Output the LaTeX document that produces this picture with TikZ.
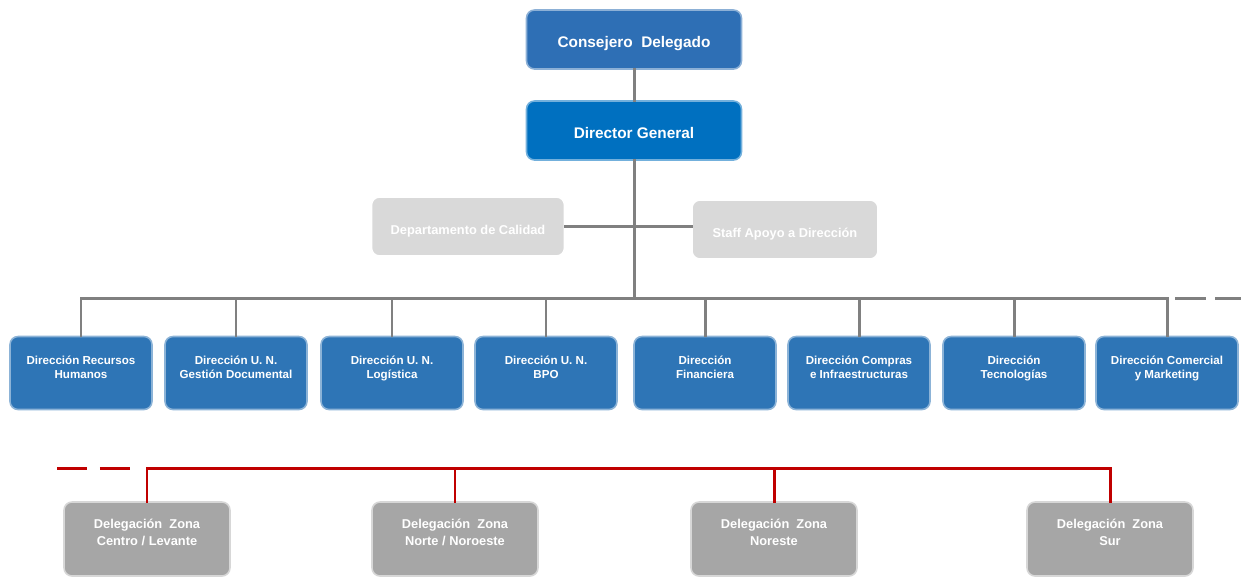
\documentclass[tikz,border=0pt]{standalone}
\usepackage{fontspec}
\setmainfont{Liberation Sans}

\definecolor{headBlue}{HTML}{2E6FB5}
\definecolor{chiefBlue}{HTML}{0070C0}
\definecolor{unitBlue}{HTML}{2E75B6}
\definecolor{staffGray}{HTML}{D9D9D9}
\definecolor{zoneGray}{HTML}{A6A6A6}
\definecolor{lineGray}{HTML}{808080}
\definecolor{zoneRed}{HTML}{C00000}

\begin{document}
\begin{tikzpicture}[
    x=0.02cm, y=-0.02cm,
    boxnode/.style={rectangle, rounded corners=0.16cm, line width=0.9pt, text=white, align=center},
    headnode/.style={boxnode, fill=#1, draw=#1!55!white, minimum width=4.3cm, minimum height=1.18cm, text height=10pt, text depth=0.9pt, font=\fontsize{8.75}{10.5}\selectfont\bfseries},
    staffnode/.style={boxnode, fill=staffGray, draw=white, minimum height=1.18cm, text height=9pt, text depth=0pt, font=\fontsize{7.3}{9}\selectfont\bfseries},
    unitnode/.style={boxnode, fill=unitBlue, draw=unitBlue!55!white, minimum width=2.84cm, minimum height=1.46cm, text height=12pt, text depth=6.2pt, font=\fontsize{6.6}{7.9}\selectfont\bfseries},
    zonenode/.style={boxnode, fill=zoneGray, draw=zoneGray!45!white, minimum width=3.32cm, minimum height=1.48cm, text height=14pt, text depth=6.6pt, font=\fontsize{7.3}{9.6}\selectfont\bfseries},
    grayline/.style={draw=lineGray, line width=1.7pt, line cap=rect},
    redline/.style={draw=zoneRed, line width=1.7pt, line cap=rect},
]

    \useasboundingbox (0, 0) rectangle (1241, 576);

    % top of the chart
    \node at (634, 39.5) [headnode=headBlue] (consejero) {Consejero~~Delegado};
    \node at (634, 130.5) [headnode=chiefBlue] (director) {Director General};

    % staff boxes beside the trunk
    \node at (468, 226.5) [staffnode, minimum width=3.86cm] (calidad) {Departamento de Calidad};
    \node at (785, 229.5) [staffnode, minimum width=3.72cm] (staff) {Staff Apoyo a Dirección};

    % direcciones
    \foreach \i/\posX/\boxText in {
    % i:    the i box from left,
    % posX: the box center on the row
    1/81/{Dirección Recursos\\Humanos},
    2/236/{Dirección U. N.\\Gestión Documental},
    3/392/{Dirección U. N.\\Logística},
    4/546/{Dirección U. N.\\BPO},
    5/705/{Dirección\\Financiera},
    6/859/{Dirección Compras\\e Infraestructuras},
    7/1014/{Dirección\\Tecnologías},
    8/1167/{Dirección Comercial\\y Marketing}}
    {
        \node at (\posX, 373) [unitnode] (dir_\i) {\boxText};
    }

    % delegaciones
    \foreach \i/\posX/\boxText in {
    1/147/{Delegación~~Zona\\Centro / Levante},
    2/455/{Delegación~~Zona\\Norte / Noroeste},
    3/774/{Delegación~~Zona\\Noreste},
    4/1110/{Delegación~~Zona\\Sur}}
    {
        \node at (\posX, 539) [zonenode] (zone_\i) {\boxText};
    }

    % the trunk
    \coordinate (bar) at (634, 298);
    \draw [grayline] (consejero) -- (director);
    \draw [grayline] (director) -- (bar);
    \draw [grayline] (calidad.east) -- (calidad.east -| staff.west);

    % horizontal bar and drops to the direcciones
    \draw [grayline] (dir_1.north |- bar) -- (dir_8.north |- bar);
    \foreach \i in {1, ..., 8}
    {
        \draw [grayline] (dir_\i.north |- bar) -- (dir_\i.north);
    }
    \coordinate (grayDashA) at (1175, 298);
    \coordinate (grayDashB) at (1241, 298);
    \draw [draw=lineGray, line width=1.7pt, dash pattern=on 0.62cm off 0.18cm] (grayDashA) -- (grayDashB);

    % red bar to the delegaciones
    \coordinate (redbar) at (634, 468);
    \draw [redline] (zone_1.north |- redbar) -- (zone_4.north |- redbar);
    \foreach \i in {1, ..., 4}
    {
        \draw [redline] (zone_\i.north |- redbar) -- (zone_\i.north);
    }
    \coordinate (redDashA) at (57, 468);
    \coordinate (redDashB) at (132, 468);
    \draw [draw=zoneRed, line width=1.7pt, dash pattern=on 0.6cm off 0.26cm] (redDashA) -- (redDashB);

\end{tikzpicture}
\end{document}
